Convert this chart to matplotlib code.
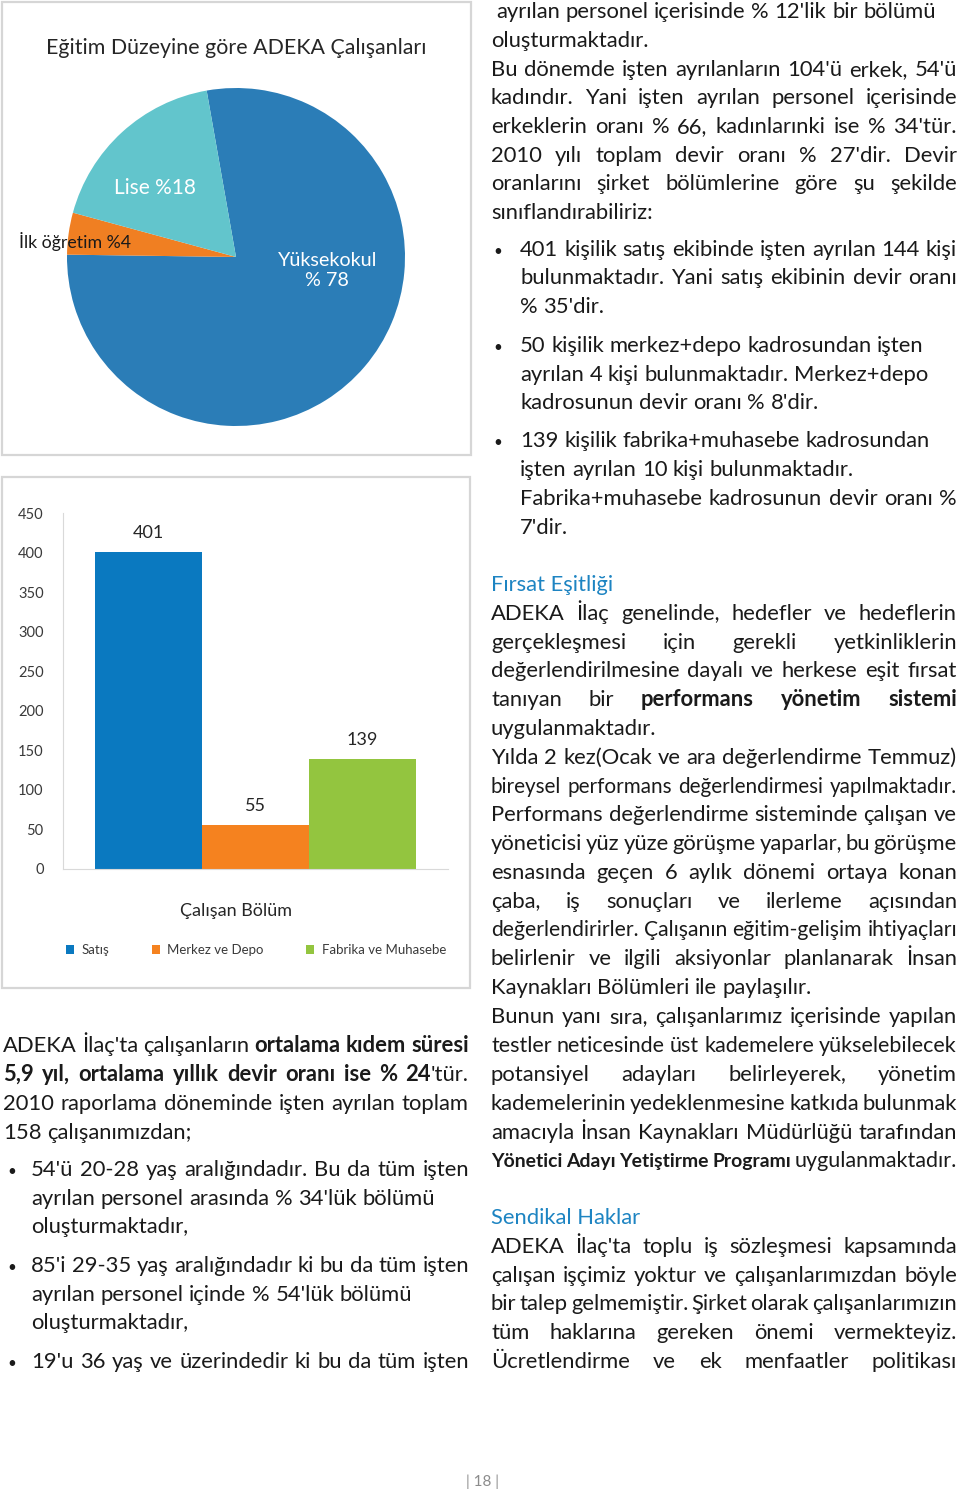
import matplotlib
matplotlib.use("Agg")
import matplotlib.pyplot as plt
from matplotlib.patches import Rectangle

W, H = 960, 1492
plt.rcParams['font.family'] = ['Lato', 'DejaVu Sans']

# pie data
edu_labels = ["Yüksekokul", "İlk öğretim", "Lise"]
edu_pct = [78, 4, 18]
edu_colors = ["#2b7db7", "#f07f22", "#62c5cc"]

# bar data
dept_names = ["Satış", "Merkez ve Depo", "Fabrika ve Muhasebe"]
dept_counts = [401, 55, 139]
dept_colors = ["#0a79c0", "#f5821f", "#93c53f"]
y_ticks = [0, 50, 100, 150, 200, 250, 300, 350, 400, 450]

INK = "#1a1a1a"
BLUE_HEAD = "#1d84c2"
FS = 15.8

# page text: (y, x_start, text, justified)
left_lines = [
    (1046, 3, "ADEKA İlaç'ta çalışanların **ortalama kıdem süresi**", True),
    (1075, 3, "**5,9 yıl, ortalama yıllık devir oranı ise % 24**'tür.", True),
    (1104, 3, "2010 raporlama döneminde işten ayrılan toplam", True),
    (1133, 3, "158 çalışanımızdan;", False),
    (1170, 31, "54'ü 20-28 yaş aralığındadır. Bu da tüm işten", True),
    (1199, 31, "ayrılan personel arasında % 34'lük bölümü", False),
    (1227, 31, "oluşturmaktadır,", False),
    (1266, 31, "85'i 29-35 yaş aralığındadır ki bu da tüm işten", True),
    (1295, 31, "ayrılan personel içinde % 54'lük bölümü", False),
    (1323, 31, "oluşturmaktadır,", False),
    (1362, 31, "19'u 36 yaş ve üzerindedir ki bu da tüm işten", True),
]
left_bullets = [1170, 1266, 1362]

right_lines = [
    (12, 496, "ayrılan personel içerisinde % 12'lik bir bölümü", False),
    (41, 491, "oluşturmaktadır.", False),
    (70, 491, "Bu dönemde işten ayrılanların 104'ü erkek, 54'ü", True),
    (98, 491, "kadındır. Yani işten ayrılan personel içerisinde", True),
    (127, 491, "erkeklerin oranı % 66, kadınlarınki ise % 34'tür.", True),
    (156, 491, "2010 yılı toplam devir oranı % 27'dir. Devir", True),
    (184, 491, "oranlarını şirket bölümlerine göre şu şekilde", True),
    (213, 491, "sınıflandırabiliriz:", False),
    (250, 520, "401 kişilik satış ekibinde işten ayrılan 144 kişi", True),
    (278, 520, "bulunmaktadır. Yani satış ekibinin devir oranı", True),
    (307, 520, "% 35'dir.", False),
    (346, 520, "50 kişilik merkez+depo kadrosundan işten", False),
    (375, 520, "ayrılan 4 kişi bulunmaktadır. Merkez+depo", False),
    (403, 520, "kadrosunun devir oranı % 8'dir.", False),
    (441, 520, "139 kişilik fabrika+muhasebe kadrosundan", False),
    (470, 520, "işten ayrılan 10 kişi bulunmaktadır.", False),
    (499, 520, "Fabrika+muhasebe kadrosunun devir oranı %", True),
    (528, 520, "7'dir.", False),
    (614, 491, "ADEKA İlaç genelinde, hedefler ve hedeflerin", True),
    (643, 491, "gerçekleşmesi için gerekli yetkinliklerin", True),
    (671, 491, "değerlendirilmesine dayalı ve herkese eşit fırsat", True),
    (700, 491, "tanıyan bir **performans yönetim sistemi**", True),
    (729, 491, "uygulanmaktadır.", False),
    (758, 491, "Yılda 2 kez(Ocak ve ara değerlendirme Temmuz)", True),
    (787, 491, "bireysel performans değerlendirmesi yapılmaktadır.", True),
    (815, 491, "Performans değerlendirme sisteminde çalışan ve", True),
    (844, 491, "yöneticisi yüz yüze görüşme yaparlar, bu görüşme", True),
    (873, 491, "esnasında geçen 6 aylık dönemi ortaya konan", True),
    (902, 491, "çaba, iş sonuçları ve ilerleme açısından", True),
    (930, 491, "değerlendirirler. Çalışanın eğitim-gelişim ihtiyaçları", True),
    (959, 491, "belirlenir ve ilgili aksiyonlar planlanarak İnsan", True),
    (988, 491, "Kaynakları Bölümleri ile paylaşılır.", False),
    (1017, 491, "Bunun yanı sıra, çalışanlarımız içerisinde yapılan", True),
    (1046, 491, "testler neticesinde üst kademelere yükselebilecek", True),
    (1075, 491, "potansiyel adayları belirleyerek, yönetim", True),
    (1104, 491, "kademelerinin yedeklenmesine katkıda bulunmak", True),
    (1133, 491, "amacıyla İnsan Kaynakları Müdürlüğü tarafından", True),
    (1161, 491, "**Yönetici Adayı Yetiştirme Programı** uygulanmaktadır.", True),
    (1247, 491, "ADEKA İlaç'ta toplu iş sözleşmesi kapsamında", True),
    (1276, 491, "çalışan işçimiz yoktur ve çalışanlarımızdan böyle", True),
    (1304, 491, "bir talep gelmemiştir. Şirket olarak çalışanlarımızın", True),
    (1333, 491, "tüm haklarına gereken önemi vermekteyiz.", True),
    (1362, 491, "Ücretlendirme ve ek menfaatler politikası", True),
]
right_bullets = [250, 346, 441]
headings = [(585, "Fırsat Eşitliği"), (1218, "Sendikal Haklar")]

fig = plt.figure(figsize=(W / 100, H / 100), dpi=100)
fig.patch.set_facecolor("white")
renderer = fig.canvas.get_renderer()


def fx(x):
    return x / W


def fy(y):
    return 1 - y / H


def parse(s):
    words = [[]]
    for i, part in enumerate(s.split("**")):
        bold = i % 2 == 1
        for j, piece in enumerate(part.split(" ")):
            if j > 0:
                words.append([])
            if piece:
                words[-1].append((piece, bold))
    return [w for w in words if w]


def width_of(t):
    return t.get_window_extent(renderer).width


def draw_line(x0, x1, y, s, justify, size=FS, color=INK):
    words = parse(s)
    bold_size = size
    while True:
        objs = []
        widths = []
        for w in words:
            runs = []
            ww = 0
            for txt, bold in w:
                t = fig.text(0, fy(y + 6), txt, fontsize=bold_size if bold else size,
                             color=color, fontweight="bold" if bold else "normal",
                             va="baseline")
                runs.append((t, width_of(t)))
                ww += runs[-1][1]
            objs.append(runs)
            widths.append(ww)
        probe_a = fig.text(0, 0, "a a", fontsize=size)
        probe_b = fig.text(0, 0, "aa", fontsize=size)
        space = width_of(probe_a) - width_of(probe_b)
        probe_a.remove()
        probe_b.remove()
        gap = space
        if justify and len(words) > 1:
            gap = (x1 - x0 - sum(widths)) / (len(words) - 1)
            if gap < 0.55 * space:
                for runs in objs:
                    for t, _ in runs:
                        t.remove()
                # squeeze the bold run first, then the whole line
                if "**" in s and bold_size > size * 0.9:
                    bold_size *= 0.98
                else:
                    size *= 0.98
                    bold_size = min(bold_size, size)
                continue
        break
    x = x0
    for runs, ww in zip(objs, widths):
        for t, tw in runs:
            t.set_x(fx(x))
            x += tw
        x += gap


for y, x0, s, j in left_lines:
    draw_line(x0, 469, y, s, j)
for y in left_bullets:
    fig.text(fx(7), fy(y + 6), "•", fontsize=11, color=INK, va="baseline")
for y, x0, s, j in right_lines:
    draw_line(x0, 957, y, s, j)
for y in right_bullets:
    fig.text(fx(493), fy(y + 6), "•", fontsize=11, color=INK, va="baseline")
for y, s in headings:
    fig.text(fx(491), fy(y + 6), s, fontsize=FS, color=BLUE_HEAD, va="baseline")

# chart frames
for (x0, y0, x1, y1) in [(2, 2, 471, 455), (2, 477, 470, 988)]:
    fig.add_artist(Rectangle((fx(x0), fy(y1)), (x1 - x0) / W, (y1 - y0) / H,
                             transform=fig.transFigure, fill=False,
                             edgecolor="#d6d6d6", lw=1.6))

# pie chart
fig.text(fx(236), fy(48), "Eğitim Düzeyine göre ADEKA Çalışanları",
         ha="center", va="center", fontsize=15.4, color="#262626")
axp = fig.add_axes([fx(67), fy(426), 338 / W, 338 / H])
axp.pie(edu_pct, colors=edu_colors, startangle=100, counterclock=False,
        wedgeprops=dict(linewidth=0))
axp.set_xlim(-1, 1)
axp.set_ylim(-1, 1)
axp.text(0.54, -0.08, "Yüksekokul\n% 78", ha="center", va="center",
         fontsize=14.2, color="white", linespacing=1.25)
axp.text(-0.48, 0.41, "Lise %18", ha="center", va="center", fontsize=15, color="white")
axp.text(-0.95, 0.09, "İlk öğretim %4", ha="center", va="center", fontsize=12.8, color=INK)

# bar chart
axb = fig.add_axes([fx(63), fy(869), (448 - 63) / W, (869 - 513) / H])
xs = list(range(len(dept_counts)))
bars = axb.bar(xs, dept_counts, width=1.0, color=dept_colors)
axb.bar_label(bars, padding=8, fontsize=13, color="#262626")
axb.set_xlim(-0.8, 2.8)
axb.set_ylim(0, 450)
axb.set_yticks(y_ticks)
axb.set_xticks([])
axb.tick_params(axis="y", length=0, pad=14, labelsize=10.5, labelcolor="#3a3a3a")
for side in ["top", "right"]:
    axb.spines[side].set_visible(False)
for side in ["left", "bottom"]:
    axb.spines[side].set_color("#d9d9d9")
fig.text(fx(236), fy(911), "Çalışan Bölüm", ha="center", va="center",
         fontsize=13, color="#262626")
fig.legend(list(bars), dept_names, loc="center", bbox_to_anchor=(fx(256), fy(950)),
           ncol=3, frameon=False, fontsize=9.5, handlelength=0.6, handleheight=0.6,
           handletextpad=0.6, columnspacing=3.2, labelcolor="#3a3a3a")

fig.text(fx(482), fy(1482), "| 18 |", ha="center", va="center", fontsize=11, color="#8c8c8c")

fig.savefig("out.png", dpi=100)
